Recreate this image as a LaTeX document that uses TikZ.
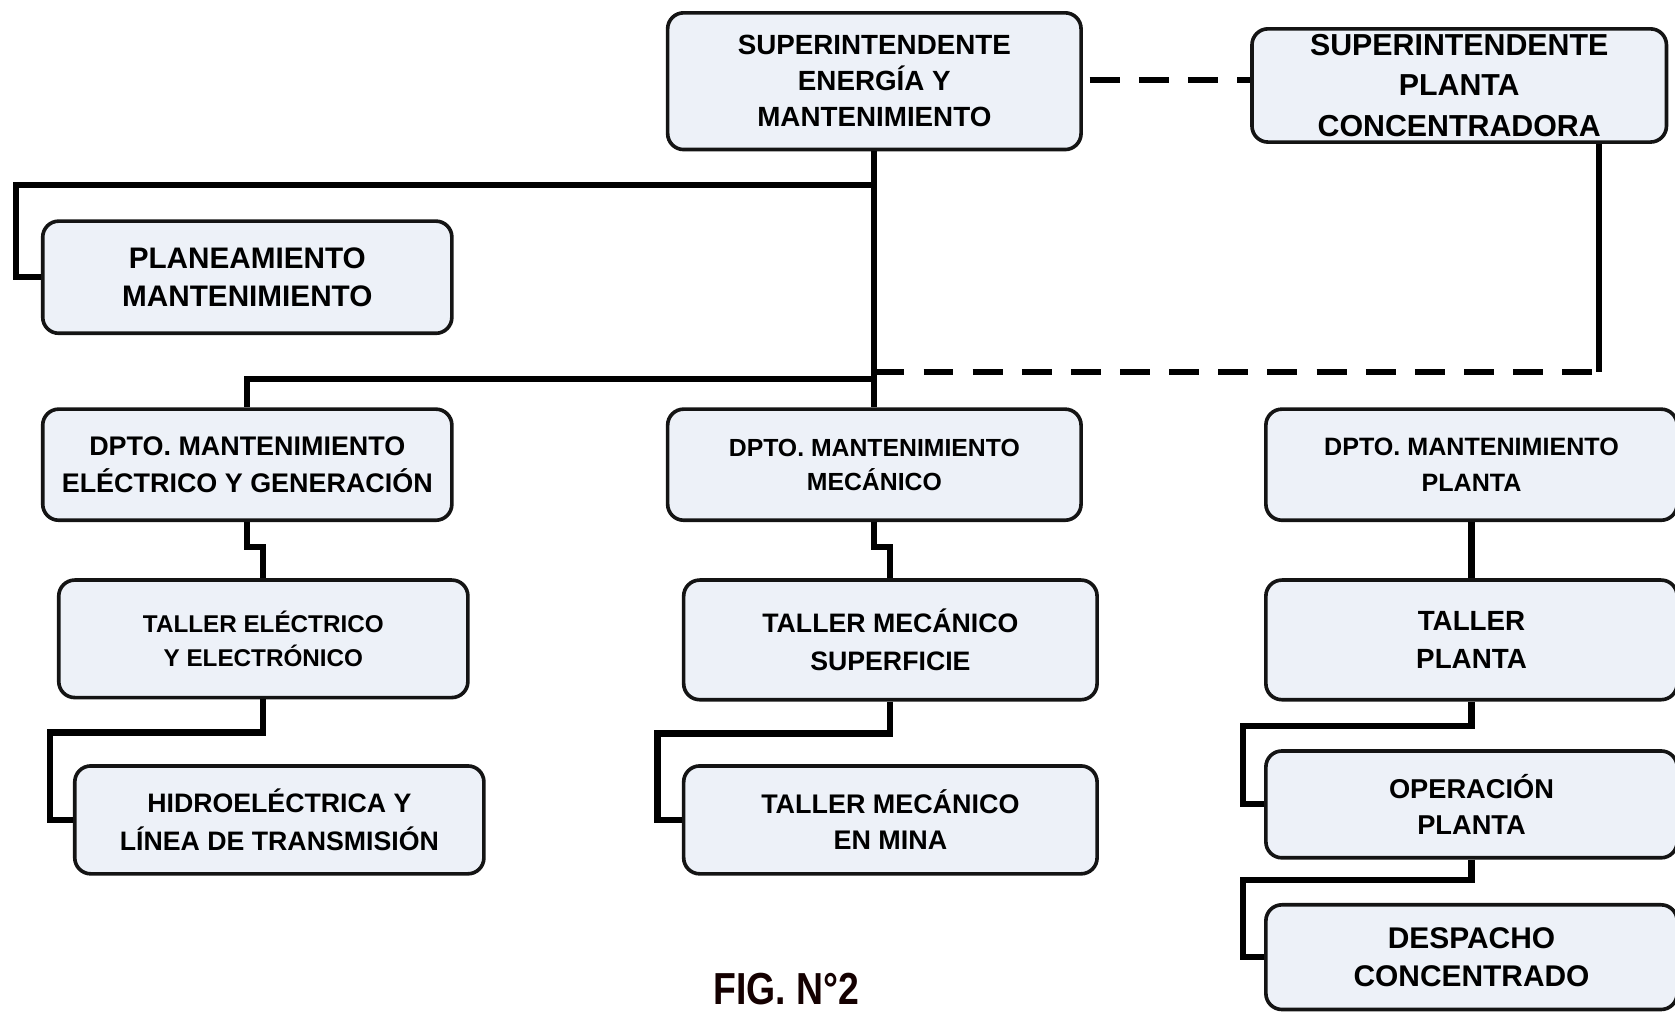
\documentclass[tikz,border=0pt]{standalone}
\usepackage{fontspec}
\setmainfont{Liberation Sans}
\usetikzlibrary{calc}
\definecolor{boxfill}{HTML}{EDF1F8}
\definecolor{ink}{HTML}{141414}
\begin{document}
\begin{tikzpicture}[x=0.5pt,y=-0.5pt,
  box/.style={draw=ink, fill=boxfill, line width=1.7pt, rounded corners=7.5pt, rectangle, inner sep=0pt, align=center, text=black},
  conn/.style={draw=black, line width=2.9pt, line join=miter},
  dconn/.style={conn, dash pattern=on 14pt off 9pt}]
\useasboundingbox (0,0) rectangle (1568,948);

% boxes
\node[box, minimum width=193.5pt, minimum height=64pt, font=\bfseries\fontsize{13}{16.75}\selectfont] (SE) at (818.5,76) {SUPERINTENDENTE\\ENERGÍA Y\\MANTENIMIENTO};
\node[box, minimum width=194pt, minimum height=53pt, font=\bfseries\fontsize{14.2}{19}\selectfont] (SP) at (1366,80) {SUPERINTENDENTE\\PLANTA\\CONCENTRADORA};
\node[box, minimum width=191.5pt, minimum height=52.5pt, font=\bfseries\fontsize{13.9}{18}\selectfont] (PL) at (231.5,259.5) {PLANEAMIENTO\\MANTENIMIENTO};
\node[box, minimum width=191.5pt, minimum height=52pt, font=\bfseries\fontsize{12.6}{17}\selectfont] (DE) at (231.5,435) {DPTO. MANTENIMIENTO\\ELÉCTRICO Y GENERACIÓN};
\node[box, minimum width=193.5pt, minimum height=52pt, font=\bfseries\fontsize{11.6}{16}\selectfont] (DM) at (818.5,435) {DPTO. MANTENIMIENTO\\MECÁNICO};
\node[box, minimum width=192.5pt, minimum height=52pt, font=\bfseries\fontsize{11.75}{17}\selectfont] (DP) at (1377.5,435) {DPTO. MANTENIMIENTO\\PLANTA};
\node[box, minimum width=191.5pt, minimum height=55pt, font=\bfseries\fontsize{11.35}{15.5}\selectfont] (TE) at (246.5,598) {TALLER ELÉCTRICO\\Y ELECTRÓNICO};
\node[box, minimum width=193.5pt, minimum height=56pt, font=\bfseries\fontsize{12.5}{17.5}\selectfont] (TM) at (833.5,599) {TALLER MECÁNICO\\SUPERFICIE};
\node[box, minimum width=192.5pt, minimum height=56pt, font=\bfseries\fontsize{13}{18}\selectfont] (TP) at (1377.5,599) {TALLER\\PLANTA};
\node[box, minimum width=191.5pt, minimum height=50.5pt, font=\bfseries\fontsize{12.5}{17.5}\selectfont] (HI) at (261.5,767.5) {HIDROELÉCTRICA Y\\LÍNEA DE TRANSMISIÓN};
\node[box, minimum width=193.5pt, minimum height=50.5pt, font=\bfseries\fontsize{12.6}{17}\selectfont] (MI) at (833.5,767.5) {TALLER MECÁNICO\\EN MINA};
\node[box, minimum width=192.5pt, minimum height=50pt, font=\bfseries\fontsize{12.75}{17}\selectfont] (OP) at (1377.5,753) {OPERACIÓN\\PLANTA};
\node[box, minimum width=192.5pt, minimum height=49pt, font=\bfseries\fontsize{14}{17.5}\selectfont] (DC) at (1377.5,896) {DESPACHO\\CONCENTRADO};

\node[font=\bfseries\fontsize{17.5}{20}\selectfont, text=black!92!red] (FIG) at (736,926) {\scalebox{1}[1.2]{FIG. N°2}};

% junctions
\coordinate (j1) at (818.5,173);
\coordinate (j2) at (818.5,355);
\coordinate (j3) at (818.5,348);
\coordinate (c4) at (1497,348);
\coordinate (t1) at (1012,75);

% connectors
\draw[dconn, dash phase=19pt] (t1) -- (t1 -| SP.west);
\draw[conn] (SE.south) -- (DM.north);
\draw[conn] (j1) -- (15,173) |- (PL.west);
\draw[conn] (j2) -| (DE.north);
\draw[dconn] (j3) -- (c4);
\draw[conn] (c4) -- (SP.south -| c4);

\draw[conn] (DE.south) -- ++(0,23) -| (TE.north);
\draw[conn] (TE.south) -- ++(0,31) -- ++(-200,0) |- (HI.west);
\draw[conn] (DM.south) -- ++(0,23) -| (TM.north);
\draw[conn] (TM.south) -- ++(0,30) -- ++(-218,0) |- (MI.west);
\draw[conn] (DP.south) -- (TP.north);
\draw[conn] (TP.south) -- ++(0,23) -- ++(-214,0) |- (OP.west);
\draw[conn] (OP.south) -- ++(0,19) -- ++(-214,0) |- (DC.west);
\end{tikzpicture}
\end{document}
